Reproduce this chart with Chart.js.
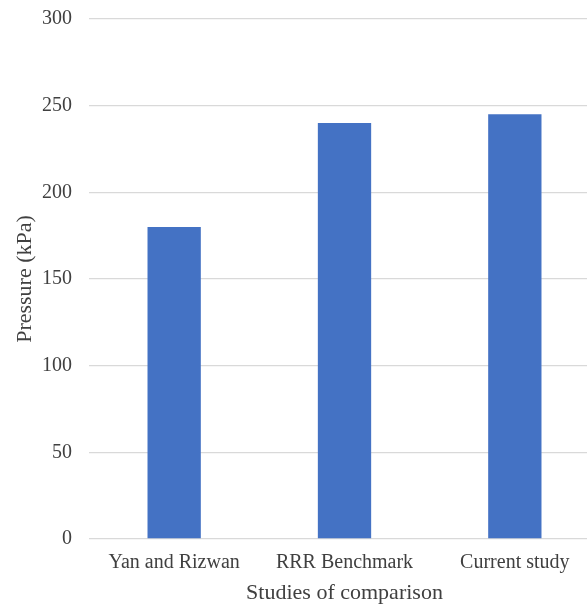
<!DOCTYPE html>
<html>
<head>
<meta charset="utf-8">
<script src="https://cdn.jsdelivr.net/npm/chart.js@4/dist/chart.umd.min.js"></script>
<style>
  html, body { margin: 0; padding: 0; background: #ffffff; overflow: hidden; }
  #wrap { width: 600px; height: 610px; position: relative; }
</style>
</head>
<body>
<div id="wrap"><canvas id="chart" width="600" height="610"></canvas></div>
<script>
// Peak pressure reported by each study
const studies = ['Yan and Rizwan', 'RRR Benchmark', 'Current study'];
const pressureKPa = [180, 240, 245];
const yTicks = [0, 50, 100, 150, 200, 250, 300];

const serif = '"Liberation Serif", "Times New Roman", serif';
const textColor = '#404040';

new Chart(document.getElementById('chart'), {
  type: 'bar',
  data: {
    labels: studies,
    datasets: [{
      label: 'Pressure (kPa)',
      data: pressureKPa,
      backgroundColor: '#4472C4',
      borderWidth: 0,
      barPercentage: 0.313,
      categoryPercentage: 1
    }]
  },
  options: {
    responsive: false,
    animation: false,
    layout: { padding: { top: 19, right: 0, bottom: 0, left: 0 } },
    plugins: { legend: { display: false }, tooltip: { enabled: false } },
    scales: {
      x: {
        grid: { display: false, drawTicks: false },
        border: { display: false },
        ticks: { color: textColor, font: { family: serif, size: 20 }, padding: 12, maxRotation: 0 },
        title: { display: true, text: 'Studies of comparison', color: textColor, font: { family: serif, size: 22 }, padding: { top: 0, bottom: 4 } },
        afterFit: s => { s.height = 71; s.paddingLeft = 0; s.paddingRight = 0; }
      },
      y: {
        min: yTicks[0],
        max: yTicks[yTicks.length - 1],
        afterBuildTicks: s => { s.ticks = yTicks.map(v => ({ value: v })); },
        grid: { color: '#d9d9d9', lineWidth: 1.3, drawTicks: false },
        border: { display: false },
        ticks: { color: textColor, font: { family: serif, size: 20 }, padding: 17 },
        title: { display: true, text: 'Pressure (kPa)', color: textColor, font: { family: serif, size: 22 }, padding: { top: 12, bottom: 0 } },
        afterFit: s => { s.width = 89; s.paddingTop = 0; s.paddingBottom = 0; }
      }
    }
  }
});
</script>
</body>
</html>
